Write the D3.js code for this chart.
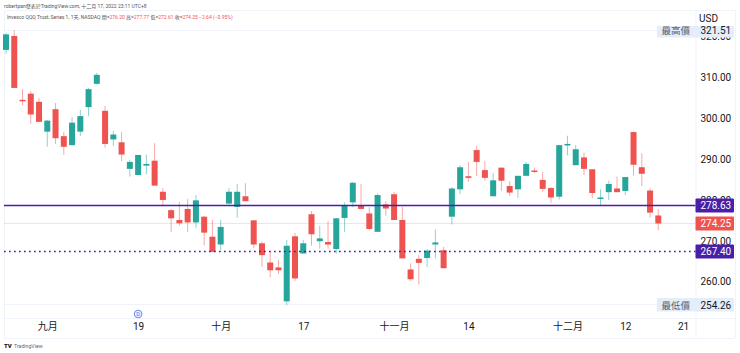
<!DOCTYPE html>
<html>
<head>
<meta charset="utf-8">
<script src="https://cdn.jsdelivr.net/npm/d3@7"></script>
<style>
  html, body { margin: 0; padding: 0; background: #fff; }
  svg { display: block; }
  text { font-family: Roboto, "Noto Sans CJK TC", sans-serif; }
</style>
</head>
<body>
<svg id="chart" width="740" height="353"></svg>
<script>
// daily candles
const opens = [316.7,320.1,304.5,306.0,304.0,296.7,302.2,295.6,293.4,296.7,302.7,308.4,301.8,294.8,294.1,287.6,286.1,288.4,289.6,282.0,
  277.5,275.1,277.8,274.5,275.9,271.0,269.1,279.1,278.3,280.9,275.0,269.4,264.7,263.5,255.2,271.1,266.9,276.5,269.9,269.7,
  268.0,275.6,279.4,278.6,276.7,272.2,278.9,281.4,275.1,263.0,265.6,265.8,269.1,267.7,275.9,282.6,285.8,292.2,287.3,280.9,
  287.9,283.4,282.6,285.9,287.2,284.9,282.9,280.8,293.5,288.5,290.4,287.5,280.3,281.9,282.8,282.2,296.6,288.0,282.3,276.2];
const highs = [320.9,321.51,307.1,306.6,304.9,299.5,303.7,296.6,300.3,302.0,307.4,311.1,303.0,296.9,296.6,289.8,291.0,291.1,293.9,282.9,
  277.8,279.5,280.2,281.2,276.1,275.1,275.1,282.9,283.9,284.1,275.1,269.8,267.3,265.3,270.2,271.9,270.2,277.3,273.7,274.8,
  275.6,279.4,284.4,283.9,278.2,281.6,279.7,282.0,278.3,264.5,266.5,268.0,272.8,268.5,283.1,288.5,289.3,293.3,289.6,286.5,
  287.9,284.6,285.9,289.3,287.9,286.9,283.2,293.5,295.7,293.4,291.6,287.5,282.6,284.7,285.7,285.6,296.8,291.4,282.8,277.77];
const lows = [315.7,307.4,303.2,298.6,299.1,293.0,293.7,291.0,293.3,295.6,300.5,308.2,292.8,293.2,289.5,285.7,286.1,286.3,283.5,278.7,
  272.2,273.7,272.2,273.2,268.9,267.3,267.7,278.9,275.6,279.7,268.2,263.6,261.1,261.9,254.26,260.2,266.9,268.8,268.1,268.1,
  266.9,272.2,278.2,277.8,272.6,272.2,276.1,275.1,265.7,260.2,259.3,263.6,265.7,263.3,274.0,281.4,284.4,285.9,284.7,280.9,
  282.2,281.0,280.5,285.9,286.6,282.0,279.3,280.1,290.9,288.5,286.1,280.4,278.7,280.0,281.9,281.2,285.9,283.4,275.7,272.61];
const closes = [320.5,307.4,304.3,300.9,299.1,299.4,295.1,293.0,298.9,300.5,307.1,310.6,293.7,296.0,291.1,289.3,291.0,288.8,283.5,280.0,
  275.5,274.3,274.5,279.9,272.0,267.3,273.4,282.0,282.0,279.7,269.1,266.5,262.8,262.8,268.8,260.8,269.4,271.6,270.6,269.1,
  275.5,278.6,284.2,277.8,272.9,281.2,277.9,275.1,265.7,260.6,264.6,267.6,269.6,263.3,282.8,288.0,285.4,289.3,285.4,284.8,
  284.7,281.8,285.9,288.8,286.9,282.7,280.6,293.4,293.7,292.4,287.6,281.7,280.6,283.9,281.9,285.6,288.6,286.4,276.9,274.25];

const priceTicks = [260, 270, 280, 290, 300, 310, 320];
const dateIdx = [5, 16, 26, 36, 47, 56, 68, 75, 82];
const dateLabels = ['九月', '19', '十月', '17', '十一月', '14', '十二月', '12', '21'];

const highPrice = 321.51, lowPrice = 254.26, lastPrice = 274.25;
const solidLevel = 278.63, dottedLevel = 267.40;

const green = '#26a69a', red = '#ef5350', purple = '#4a1fa8';

const svg = d3.select('#chart');
const left = 4, right = 695.5, outer = 735;
const paneTop = 30, paneBottom = 304, axisTop = 318, axisBottom = 338;

const x = d3.scaleLinear().domain([0, 79]).range([6, 658.3]);
const y = d3.scaleLinear().domain([260, 310]).range([281.7, 77.3]);

// frame of the panes
const frame = svg.append('g').attr('stroke', '#f0f3fa').attr('stroke-width', 1);
[10, paneTop, paneBottom, axisTop, axisBottom].forEach(v => {
  frame.append('line').attr('x1', left).attr('x2', outer).attr('y1', v + 0.5).attr('y2', v + 0.5);
});
[left, right, outer].forEach(v => {
  frame.append('line').attr('x1', v + 0.5).attr('x2', v + 0.5).attr('y1', 10).attr('y2', axisBottom);
});

// price axis
const yAxis = svg.append('g')
  .attr('transform', 'translate(' + right + ',0)')
  .call(d3.axisRight(y).tickValues(priceTicks).tickSize(0).tickPadding(5).tickFormat(d3.format('.2f')));
yAxis.select('.domain').remove();
yAxis.selectAll('text').attr('font-size', '10px').attr('fill', '#131722').style('font-family', 'Roboto');

// time axis
const xAxis = svg.append('g')
  .attr('transform', 'translate(0,' + axisTop + ')')
  .call(d3.axisBottom(x).tickValues(dateIdx).tickSize(0).tickPadding(5).tickFormat((d, i) => dateLabels[i]));
xAxis.select('.domain').remove();
xAxis.selectAll('text').attr('font-size', '10px').attr('fill', '#131722');

// faint last price line
svg.append('line').attr('x1', left).attr('x2', right)
  .attr('y1', y(lastPrice)).attr('y2', y(lastPrice))
  .attr('stroke', '#ef5350').attr('stroke-opacity', 0.2);

// candles
const candles = svg.append('g').selectAll('g')
  .data(opens.map((o, i) => ({ i: i, o: o, h: highs[i], l: lows[i], c: closes[i] })))
  .join('g')
  .attr('class', 'candle');

candles.append('line')
  .attr('x1', d => x(d.i)).attr('x2', d => x(d.i))
  .attr('y1', d => y(d.h)).attr('y2', d => y(d.l))
  .attr('stroke', d => d.c >= d.o ? green : red)
  .attr('stroke-opacity', 0.5);

candles.append('rect')
  .attr('x', d => x(d.i) - 3)
  .attr('width', 6)
  .attr('y', d => y(Math.max(d.o, d.c)))
  .attr('height', d => Math.max(1.5, Math.abs(y(d.o) - y(d.c))))
  .attr('fill', d => d.c >= d.o ? green : red);

// horizontal levels
svg.append('line').attr('x1', left).attr('x2', right)
  .attr('y1', y(solidLevel)).attr('y2', y(solidLevel))
  .attr('stroke', purple).attr('stroke-width', 1.6);
svg.append('line').attr('x1', left).attr('x2', right)
  .attr('y1', y(dottedLevel)).attr('y2', y(dottedLevel))
  .attr('stroke', purple).attr('stroke-width', 1.6).attr('stroke-dasharray', '1.7 3.3');

// value tags on the axis
function priceTag(value, color) {
  svg.append('rect').attr('x', right).attr('y', y(value) - 7).attr('width', 38.5).attr('height', 14)
    .attr('rx', 1).attr('fill', color);
  svg.append('text').attr('x', right + 5).attr('y', y(value) + 3.6)
    .attr('font-size', '10px').attr('fill', '#fff').style('font-family', 'Roboto')
    .text(value.toFixed(2));
}
priceTag(solidLevel, purple);
priceTag(lastPrice, red);
priceTag(dottedLevel, purple);

function extremeTag(value, name, top, h) {
  svg.append('rect').attr('x', 657).attr('y', top).attr('width', 77).attr('height', h)
    .attr('fill', '#e4eefa');
  svg.append('text').attr('x', 661.5).attr('y', y(value) + 3.6)
    .attr('font-size', '9.5px').attr('fill', '#5d606b').text(name);
  svg.append('text').attr('x', right + 5).attr('y', y(value) + 3.6)
    .attr('font-size', '10px').attr('fill', '#131722').style('font-family', 'Roboto')
    .text(value.toFixed(2));
}
extremeTag(highPrice, '最高價', 26, 11.5);
extremeTag(lowPrice, '最低價', 298, 13.5);

svg.append('text').attr('x', 699).attr('y', 22).attr('font-size', '10px').attr('fill', '#131722').text('USD');

// header
svg.append('text').attr('x', 4).attr('y', 7.7).attr('font-size', '5px').attr('fill', '#555')
  .text('robertpan發表於TradingView.com, 十二月 17, 2022 23:11 UTC+8');

const legend = svg.append('text').attr('x', 7).attr('y', 18.6).attr('font-size', '5px').attr('fill', '#555');
legend.append('tspan').text('Invesco QQQ Trust, Series 1, 1天, NASDAQ  ');
const ohlc = [['開', opens[79]], ['高', highs[79]], ['低', lows[79]], ['收', closes[79]]];
ohlc.forEach(p => {
  legend.append('tspan').text(' ' + p[0] + '=');
  legend.append('tspan').attr('fill', red).text(p[1].toFixed(2) + ' ');
});
legend.append('tspan').attr('fill', red).text(' −2.64 (−0.95%)');

// dividend marker
svg.append('circle').attr('cx', x(16)).attr('cy', 314).attr('r', 3.8)
  .attr('fill', '#eef3fe').attr('stroke', '#5b8df0');
svg.append('text').attr('x', x(16)).attr('y', 316).attr('text-anchor', 'middle')
  .attr('font-size', '5.5px').attr('fill', '#3d72ea').text('D');

// logo
svg.append('text').attr('x', 4).attr('y', 348).attr('font-size', '6px').attr('font-weight', 900).attr('fill', '#131722').text('TV');
svg.append('text').attr('x', 14).attr('y', 348).attr('font-size', '5.2px').attr('fill', '#666').text('TradingView');
</script>
</body>
</html>
